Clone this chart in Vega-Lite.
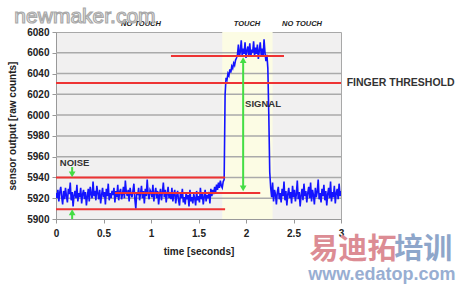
{
  "$schema": "https://vega.github.io/schema/vega-lite/v6.json",
  "width": 285,
  "height": 187,
  "autosize": {"type": "none"},
  "padding": {"left": 56, "top": 32, "right": 121, "bottom": 68},
  "background": "white",
  "config": {
    "view": {"fill": "#f1f0f0", "stroke": "#a8a8a8", "strokeWidth": 1},
    "axis": {
      "labelFont": "Liberation Sans", "titleFont": "Liberation Sans",
      "labelFontWeight": "bold", "titleFontWeight": "bold",
      "labelFontSize": 10, "titleFontSize": 10,
      "labelColor": "#222", "titleColor": "#222",
      "domainColor": "#999", "tickColor": "#999", "tickSize": 4, "grid": false
    },
    "text": {"font": "Liberation Sans"}
  },
  "encoding": {
    "x": {"field": "t", "type": "quantitative", "scale": {"domain": [0, 3], "nice": false},
          "axis": {"title": "time [seconds]", "values": [0, 0.5, 1, 1.5, 2, 2.5, 3], "format": "~g", "labelPadding": 5, "titlePadding": 8, "labelFlush": false}},
    "y": {"field": "v", "type": "quantitative", "scale": {"domain": [5900, 6080], "nice": false, "zero": false},
          "axis": {"title": "sensor output [raw counts]", "values": [5900,5920,5940,5960,5980,6000,6020,6040,6060,6080], "format": "d", "labelPadding": 3, "titlePadding": 9}}
  },
  "datasets": {
    "band": [{"t": 1.75, "t2": 2.28, "v": 5900, "v2": 6080}],
    "grid": [
      {"t": 0, "t2": 3, "v": 5920}, {"t": 0, "t2": 3, "v": 5940}, {"t": 0, "t2": 3, "v": 5960},
      {"t": 0, "t2": 3, "v": 5980}, {"t": 0, "t2": 3, "v": 6000}, {"t": 0, "t2": 3, "v": 6020},
      {"t": 0, "t2": 3, "v": 6040}, {"t": 0, "t2": 3, "v": 6060}
    ],
    "sig": [
      {"t":0.00,"v":5925},{"t":0.01,"v":5920},{"t":0.02,"v":5928},{"t":0.03,"v":5917},{"t":0.04,"v":5926},{"t":0.05,"v":5931},{"t":0.06,"v":5921},{"t":0.07,"v":5914},{"t":0.08,"v":5927},{"t":0.09,"v":5919},
      {"t":0.10,"v":5930},{"t":0.11,"v":5922},{"t":0.12,"v":5916},{"t":0.13,"v":5929},{"t":0.14,"v":5924},{"t":0.15,"v":5935},{"t":0.16,"v":5918},{"t":0.17,"v":5926},{"t":0.18,"v":5912},{"t":0.19,"v":5923},
      {"t":0.20,"v":5927},{"t":0.21,"v":5920},{"t":0.22,"v":5933},{"t":0.23,"v":5917},{"t":0.24,"v":5925},{"t":0.25,"v":5921},{"t":0.26,"v":5930},{"t":0.27,"v":5915},{"t":0.28,"v":5924},{"t":0.29,"v":5928},
      {"t":0.30,"v":5919},{"t":0.31,"v":5926},{"t":0.32,"v":5913},{"t":0.33,"v":5922},{"t":0.34,"v":5929},{"t":0.35,"v":5917},{"t":0.36,"v":5931},{"t":0.37,"v":5924},{"t":0.38,"v":5920},{"t":0.39,"v":5936},
      {"t":0.40,"v":5922},{"t":0.41,"v":5927},{"t":0.42,"v":5918},{"t":0.43,"v":5932},{"t":0.44,"v":5925},{"t":0.45,"v":5919},{"t":0.46,"v":5928},{"t":0.47,"v":5915},{"t":0.48,"v":5923},{"t":0.49,"v":5930},
      {"t":0.50,"v":5921},{"t":0.51,"v":5926},{"t":0.52,"v":5914},{"t":0.53,"v":5929},{"t":0.54,"v":5922},{"t":0.55,"v":5934},{"t":0.56,"v":5918},{"t":0.57,"v":5925},{"t":0.58,"v":5920},{"t":0.59,"v":5927},
      {"t":0.60,"v":5923},{"t":0.61,"v":5930},{"t":0.62,"v":5916},{"t":0.63,"v":5927},{"t":0.64,"v":5921},{"t":0.65,"v":5933},{"t":0.66,"v":5918},{"t":0.67,"v":5926},{"t":0.68,"v":5929},{"t":0.69,"v":5919},
      {"t":0.70,"v":5924},{"t":0.71,"v":5931},{"t":0.72,"v":5920},{"t":0.73,"v":5937},{"t":0.74,"v":5926},{"t":0.75,"v":5922},{"t":0.76,"v":5928},{"t":0.77,"v":5917},{"t":0.78,"v":5930},{"t":0.79,"v":5924},
      {"t":0.80,"v":5921},{"t":0.81,"v":5927},{"t":0.82,"v":5934},{"t":0.83,"v":5919},{"t":0.84,"v":5910},{"t":0.85,"v":5926},{"t":0.86,"v":5923},{"t":0.87,"v":5930},{"t":0.88,"v":5918},{"t":0.89,"v":5925},
      {"t":0.90,"v":5932},{"t":0.91,"v":5920},{"t":0.92,"v":5927},{"t":0.93,"v":5915},{"t":0.94,"v":5929},{"t":0.95,"v":5922},{"t":0.96,"v":5938},{"t":0.97,"v":5924},{"t":0.98,"v":5919},{"t":0.99,"v":5928},
      {"t":1.00,"v":5926},{"t":1.01,"v":5921},{"t":1.02,"v":5933},{"t":1.03,"v":5917},{"t":1.04,"v":5925},{"t":1.05,"v":5930},{"t":1.06,"v":5920},{"t":1.07,"v":5927},{"t":1.08,"v":5914},{"t":1.09,"v":5923},
      {"t":1.10,"v":5929},{"t":1.11,"v":5918},{"t":1.12,"v":5926},{"t":1.13,"v":5935},{"t":1.14,"v":5921},{"t":1.15,"v":5928},{"t":1.16,"v":5916},{"t":1.17,"v":5924},{"t":1.18,"v":5931},{"t":1.19,"v":5920},
      {"t":1.20,"v":5926},{"t":1.21,"v":5919},{"t":1.22,"v":5930},{"t":1.23,"v":5917},{"t":1.24,"v":5924},{"t":1.25,"v":5928},{"t":1.26,"v":5915},{"t":1.27,"v":5922},{"t":1.28,"v":5927},{"t":1.29,"v":5918},
      {"t":1.30,"v":5913},{"t":1.31,"v":5925},{"t":1.32,"v":5920},{"t":1.33,"v":5929},{"t":1.34,"v":5916},{"t":1.35,"v":5921},{"t":1.36,"v":5914},{"t":1.37,"v":5926},{"t":1.38,"v":5919},{"t":1.39,"v":5923},
      {"t":1.40,"v":5912},{"t":1.41,"v":5928},{"t":1.42,"v":5917},{"t":1.43,"v":5921},{"t":1.44,"v":5915},{"t":1.45,"v":5924},{"t":1.46,"v":5920},{"t":1.47,"v":5913},{"t":1.48,"v":5927},{"t":1.49,"v":5918},
      {"t":1.50,"v":5922},{"t":1.51,"v":5916},{"t":1.52,"v":5930},{"t":1.53,"v":5919},{"t":1.54,"v":5925},{"t":1.55,"v":5914},{"t":1.56,"v":5921},{"t":1.57,"v":5928},{"t":1.58,"v":5917},{"t":1.59,"v":5923},
      {"t":1.60,"v":5920},{"t":1.61,"v":5926},{"t":1.62,"v":5915},{"t":1.63,"v":5929},{"t":1.64,"v":5922},{"t":1.65,"v":5928},{"t":1.66,"v":5924},{"t":1.67,"v":5931},{"t":1.68,"v":5926},{"t":1.69,"v":5933},
      {"t":1.70,"v":5928},{"t":1.71,"v":5935},{"t":1.72,"v":5930},{"t":1.73,"v":5937},{"t":1.74,"v":5932},{"t":1.75,"v":5930},{"t":1.76,"v":5936},{"t":1.77,"v":5938},{"t":1.78,"v":6020},{"t":1.79,"v":6036},
      {"t":1.80,"v":6034},{"t":1.81,"v":6040},{"t":1.82,"v":6038},{"t":1.83,"v":6044},{"t":1.84,"v":6041},{"t":1.85,"v":6047},{"t":1.86,"v":6045},{"t":1.87,"v":6050},{"t":1.88,"v":6048},{"t":1.89,"v":6053},
      {"t":1.90,"v":6055},{"t":1.91,"v":6058},{"t":1.92,"v":6068},{"t":1.93,"v":6056},{"t":1.94,"v":6061},{"t":1.95,"v":6072},{"t":1.96,"v":6057},{"t":1.97,"v":6064},{"t":1.98,"v":6059},{"t":1.99,"v":6070},
      {"t":2.00,"v":6055},{"t":2.01,"v":6062},{"t":2.02,"v":6066},{"t":2.03,"v":6058},{"t":2.04,"v":6069},{"t":2.05,"v":6056},{"t":2.06,"v":6063},{"t":2.07,"v":6060},{"t":2.08,"v":6071},{"t":2.09,"v":6057},
      {"t":2.10,"v":6065},{"t":2.11,"v":6059},{"t":2.12,"v":6068},{"t":2.13,"v":6054},{"t":2.14,"v":6062},{"t":2.15,"v":6070},{"t":2.16,"v":6058},{"t":2.17,"v":6064},{"t":2.18,"v":6056},{"t":2.19,"v":6073},
      {"t":2.20,"v":6060},{"t":2.21,"v":6052},{"t":2.22,"v":6058},{"t":2.23,"v":6045},{"t":2.24,"v":6000},{"t":2.25,"v":5945},{"t":2.26,"v":5930},{"t":2.27,"v":5921},{"t":2.28,"v":5935},{"t":2.29,"v":5917},
      {"t":2.30,"v":5928},{"t":2.31,"v":5924},{"t":2.32,"v":5914},{"t":2.33,"v":5926},{"t":2.34,"v":5931},{"t":2.35,"v":5919},{"t":2.36,"v":5925},{"t":2.37,"v":5916},{"t":2.38,"v":5929},{"t":2.39,"v":5922},
      {"t":2.40,"v":5936},{"t":2.41,"v":5918},{"t":2.42,"v":5927},{"t":2.43,"v":5913},{"t":2.44,"v":5924},{"t":2.45,"v":5930},{"t":2.46,"v":5920},{"t":2.47,"v":5926},{"t":2.48,"v":5915},{"t":2.49,"v":5932},
      {"t":2.50,"v":5921},{"t":2.51,"v":5928},{"t":2.52,"v":5917},{"t":2.53,"v":5924},{"t":2.54,"v":5937},{"t":2.55,"v":5919},{"t":2.56,"v":5926},{"t":2.57,"v":5912},{"t":2.58,"v":5923},{"t":2.59,"v":5929},
      {"t":2.60,"v":5918},{"t":2.61,"v":5934},{"t":2.62,"v":5922},{"t":2.63,"v":5927},{"t":2.64,"v":5916},{"t":2.65,"v":5925},{"t":2.66,"v":5931},{"t":2.67,"v":5920},{"t":2.68,"v":5935},{"t":2.69,"v":5917},
      {"t":2.70,"v":5928},{"t":2.71,"v":5923},{"t":2.72,"v":5914},{"t":2.73,"v":5930},{"t":2.74,"v":5921},{"t":2.75,"v":5926},{"t":2.76,"v":5938},{"t":2.77,"v":5919},{"t":2.78,"v":5925},{"t":2.79,"v":5916},
      {"t":2.80,"v":5929},{"t":2.81,"v":5922},{"t":2.82,"v":5933},{"t":2.83,"v":5918},{"t":2.84,"v":5927},{"t":2.85,"v":5913},{"t":2.86,"v":5924},{"t":2.87,"v":5930},{"t":2.88,"v":5920},{"t":2.89,"v":5936},
      {"t":2.90,"v":5917},{"t":2.91,"v":5926},{"t":2.92,"v":5921},{"t":2.93,"v":5932},{"t":2.94,"v":5915},{"t":2.95,"v":5925},{"t":2.96,"v":5929},{"t":2.97,"v":5919},{"t":2.98,"v":5934},{"t":2.99,"v":5922},
      {"t":3.00,"v":5927}
    ],
    "reds": [
      {"t": 0, "t2": 3, "v": 6031},
      {"t": 1.21, "t2": 2.4, "v": 6057},
      {"t": 0, "t2": 1.78, "v": 5940},
      {"t": 0, "t2": 1.78, "v": 5909.5},
      {"t": 0.62, "t2": 2.15, "v": 5925}
    ],
    "shafts": [
      {"t": 1.97, "v": 5931, "v2": 6051},
      {"t": 0.17, "v": 5950, "v2": 5944},
      {"t": 0.17, "v": 5900, "v2": 5905}
    ],
    "headsUp": [{"t": 1.97, "v": 6053}, {"t": 0.17, "v": 5906.5}],
    "headsDown": [{"t": 1.97, "v": 5929.5}, {"t": 0.17, "v": 5943}],
    "topLabels": [
      {"t": 0.895, "v": 6087.5, "label": "NO TOUCH"},
      {"t": 2.01, "v": 6087.5, "label": "TOUCH"},
      {"t": 2.59, "v": 6087.5, "label": "NO TOUCH"}
    ],
    "notes": [
      {"t": 0.04, "v": 5954, "label": "NOISE"},
      {"t": 1.99, "v": 6011, "label": "SIGNAL"}
    ],
    "threshold": [{"t": 3.06, "v": 6031, "label": "FINGER THRESHOLD"}],
    "wm1": [{"t": 0.305, "v": 6094.5, "label": "newmaker.com"}],
    "wm2": [{"t": 3.125, "v": 5870, "label": "易迪拓"}],
    "wm3": [{"t": 3.865, "v": 5870, "label": "培训"}],
    "wm4": [{"t": 3.43, "v": 5846, "label": "www.edatop.com"}]
  },
  "layer": [
    {
      "data": {"name": "band"},
      "mark": {"type": "rect", "color": "#fcfce4"},
      "encoding": {"x2": {"field": "t2"}, "y2": {"field": "v2"}}
    },
    {
      "data": {"name": "grid"},
      "mark": {"type": "rule", "color": "#aaaaaa", "strokeWidth": 1.5},
      "encoding": {"x2": {"field": "t2"}}
    },
    {
      "data": {"name": "sig"},
      "mark": {"type": "line", "color": "#1414ff", "strokeWidth": 1.6, "clip": true}
    },
    {
      "data": {"name": "reds"},
      "mark": {"type": "rule", "color": "#ee3333", "strokeWidth": 2},
      "encoding": {"x2": {"field": "t2"}}
    },
    {
      "data": {"name": "shafts"},
      "mark": {"type": "rule", "color": "#44dd44", "strokeWidth": 2},
      "encoding": {"y2": {"field": "v2"}}
    },
    {
      "data": {"name": "headsUp"},
      "mark": {"type": "point", "shape": "triangle-up", "filled": true, "color": "#44dd44", "size": 45, "opacity": 1}
    },
    {
      "data": {"name": "headsDown"},
      "mark": {"type": "point", "shape": "triangle-down", "filled": true, "color": "#44dd44", "size": 45, "opacity": 1}
    },
    {
      "data": {"name": "topLabels"},
      "mark": {"type": "text", "fontSize": 7.5, "fontWeight": "bold", "fontStyle": "italic", "color": "#222", "baseline": "middle", "align": "center"},
      "encoding": {"text": {"field": "label"}}
    },
    {
      "data": {"name": "notes"},
      "mark": {"type": "text", "fontSize": 9.5, "fontWeight": "bold", "color": "#333", "baseline": "middle", "align": "left"},
      "encoding": {"text": {"field": "label"}}
    },
    {
      "data": {"name": "threshold"},
      "mark": {"type": "text", "fontSize": 10.5, "fontWeight": "bold", "color": "#333", "baseline": "middle", "align": "left"},
      "encoding": {"text": {"field": "label"}}
    },
    {
      "data": {"name": "wm1"},
      "mark": {"type": "text", "fontSize": 21, "fontWeight": "normal", "color": "#ffffff", "stroke": "#a8a8a8", "strokeWidth": 1.2, "baseline": "middle", "align": "center"},
      "encoding": {"text": {"field": "label"}}
    },
    {
      "data": {"name": "wm2"},
      "mark": {"type": "text", "font": "Noto Sans CJK SC", "fontSize": 29, "fontWeight": "bold", "color": "#dc8c94", "baseline": "middle", "align": "center"},
      "encoding": {"text": {"field": "label"}}
    },
    {
      "data": {"name": "wm3"},
      "mark": {"type": "text", "font": "Noto Sans CJK SC", "fontSize": 29, "fontWeight": "bold", "color": "#8ea6ca", "baseline": "middle", "align": "center"},
      "encoding": {"text": {"field": "label"}}
    },
    {
      "data": {"name": "wm4"},
      "mark": {"type": "text", "fontSize": 18, "fontWeight": "bold", "color": "#98aed2", "baseline": "middle", "align": "center"},
      "encoding": {"text": {"field": "label"}}
    }
  ]
}
